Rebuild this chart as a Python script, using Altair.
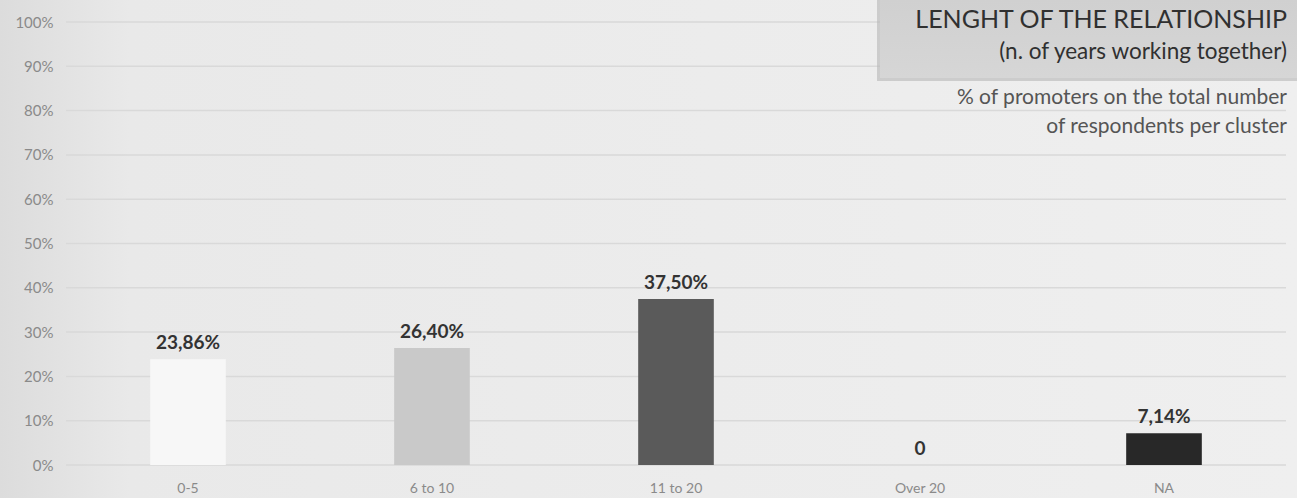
import altair as alt
import pandas as pd

categories = ["0-5", "6 to 10", "11 to 20", "Over 20", "NA"]
values = [23.86, 26.40, 37.50, 0.0, 7.14]
bar_colors = ["#f7f7f7", "#c9c9c9", "#5a5a5a", "#9a9a9a", "#282828"]
title_line1 = "LENGHT OF THE RELATIONSHIP"
title_line2 = "(n. of years working together)"
sub_line1 = "% of promoters on the total number"
sub_line2 = "of respondents per cluster"


def fmt(v):
    return "0" if v == 0 else f"{v:.2f}".replace(".", ",") + "%"


df = pd.DataFrame({
    "cat": categories,
    "val": values,
    "color": bar_colors,
    "label": [fmt(v) for v in values],
})

W, H = 1220, 443
FONT = "Lato"

xenc = alt.X("cat:N", sort=categories,
             scale=alt.Scale(paddingInner=0.69, paddingOuter=0.345),
             axis=alt.Axis(title=None, labelAngle=0, labelColor="#8a8a8a",
                           labelFontSize=14, labelFont=FONT, labelPadding=16,
                           domain=False, ticks=False, grid=False, zindex=1))
yscale = alt.Scale(domain=[0, 100], nice=False)

bg = alt.Chart(pd.DataFrame({"a": [0]})).mark_rect(
    clip=False,
    fill=alt.Gradient(gradient="linear", x1=0, x2=1, y1=0, y2=0,
                      stops=[alt.GradientStop(offset=0, color="#dcdcdc"),
                             alt.GradientStop(offset=0.1, color="#e9e9e9"),
                             alt.GradientStop(offset=1, color="#efefef")])
).encode(x=alt.value(-66), x2=alt.value(W + 11), y=alt.value(-22), y2=alt.value(H + 33))

grid = alt.Chart(pd.DataFrame({"v": list(range(0, 101, 10))})).mark_rule(
    color="#d9d9d9", strokeWidth=1.5
).encode(
    y=alt.Y("v:Q", scale=yscale,
            axis=alt.Axis(title=None, values=list(range(0, 101, 10)),
                          labelExpr="datum.value + '%'", labelColor="#8a8a8a",
                          labelFontSize=15, labelFont=FONT, labelPadding=13,
                          domain=False, ticks=False, grid=False, zindex=1)),
)

bars = alt.Chart(df).mark_bar().encode(
    x=xenc,
    y=alt.Y("val:Q", scale=yscale),
    color=alt.Color("color:N", scale=None),
)

labels = alt.Chart(df).mark_text(
    dy=-16, fontSize=19, fontWeight="bold", font=FONT, color="#333333"
).encode(
    x=alt.X("cat:N", sort=categories),
    y=alt.Y("val:Q", scale=yscale),
    text="label:N",
)

box_shadow = alt.Chart(pd.DataFrame({"a": [0]})).mark_rect(
    clip=False, fill="#b5b5b5", opacity=0.6
).encode(x=alt.value(811), x2=alt.value(W + 11), y=alt.value(-22), y2=alt.value(59))
box = alt.Chart(pd.DataFrame({"a": [0]})).mark_rect(
    clip=False,
    fill=alt.Gradient(gradient="linear", x1=0, x2=0, y1=0, y2=1,
                      stops=[alt.GradientStop(offset=0, color="#d0d0d0"),
                             alt.GradientStop(offset=1, color="#d6d6d6")])
).encode(x=alt.value(814), x2=alt.value(W + 11), y=alt.value(-22), y2=alt.value(56))

t1 = alt.Chart(pd.DataFrame({"t": [title_line1]})).mark_text(
    align="right", baseline="middle", fontSize=25, font=FONT, color="#303030"
).encode(x=alt.value(W + 1), y=alt.value(-2), text="t:N")
t2 = alt.Chart(pd.DataFrame({"t": [title_line2]})).mark_text(
    align="right", baseline="middle", fontSize=22.5, font=FONT, color="#303030"
).encode(x=alt.value(W + 1), y=alt.value(30), text="t:N")
s1 = alt.Chart(pd.DataFrame({"t": [sub_line1]})).mark_text(
    align="right", baseline="middle", fontSize=21, font=FONT, color="#555555"
).encode(x=alt.value(W + 1), y=alt.value(76), text="t:N")
s2 = alt.Chart(pd.DataFrame({"t": [sub_line2]})).mark_text(
    align="right", baseline="middle", fontSize=21, font=FONT, color="#555555"
).encode(x=alt.value(W + 1), y=alt.value(105), text="t:N")

chart = alt.layer(bg, grid, bars, labels, box_shadow, box, t1, t2, s1, s2).properties(
    width=W, height=H,
    autosize=alt.AutoSizeParams(type="none"),
    padding={"left": 66, "top": 22, "right": 11, "bottom": 33},
    background="#ececec",
).configure_view(stroke=None)

chart.save("out.html", embed_options={"renderer": "svg", "actions": False})
